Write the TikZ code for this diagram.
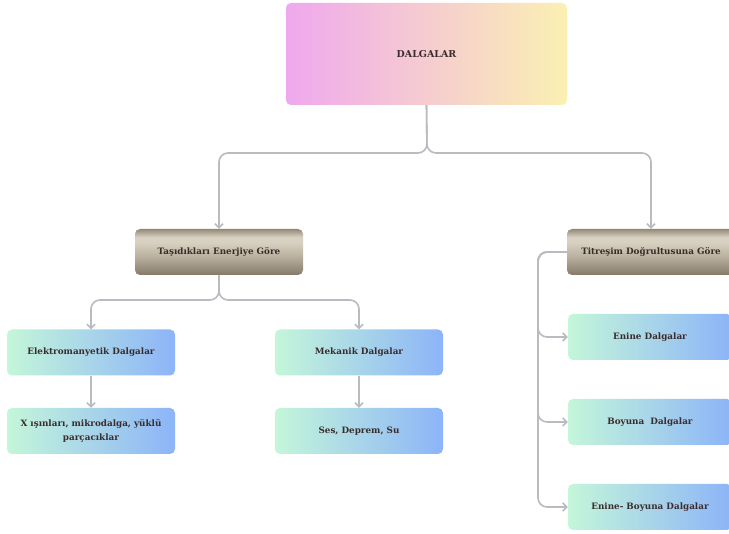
\documentclass[tikz,border=0pt]{standalone}
\usepackage{fontspec}
\setmainfont{DejaVu Serif}
\usetikzlibrary{arrows.meta}
\definecolor{txt}{HTML}{3A2C2C}
\definecolor{conncol}{HTML}{B8BCC0}
\definecolor{pinkL}{HTML}{EFA8EE}
\definecolor{pinkM}{HTML}{F6D4D4}
\definecolor{yelR}{HTML}{FBF0B2}
\definecolor{mintL}{HTML}{C4F6DA}
\definecolor{blueR}{HTML}{8CB4F8}
\definecolor{brTop}{HTML}{948977}
\definecolor{brLight}{HTML}{D8D1C2}
\definecolor{brMid}{HTML}{BAB09E}
\definecolor{brBot}{HTML}{857A6A}
\pgfdeclareverticalshading{brownsh}{100bp}{color(0bp)=(brBot); color(25bp)=(brBot); color(45bp)=(brMid); color(61bp)=(brLight); color(66bp)=(brLight); color(75bp)=(brTop); color(100bp)=(brTop)}
\tikzset{
  base/.style={rounded corners=5pt, inner sep=2pt, text=txt, font=\fontsize{8.8}{14}\selectfont\bfseries, align=center},
  topbox/.style={base, minimum width=281pt, minimum height=102pt, left color=pinkL, middle color=pinkM, right color=yelR, font=\fontsize{9.5}{11}\selectfont\bfseries},
  brownbox/.style={base, minimum width=168pt, minimum height=46pt, shading=brownsh},
  leafbox/.style={base, minimum width=168pt, minimum height=46pt, left color=mintL, right color=blueR},
  conn/.style={draw=conncol, line width=1.6pt, rounded corners=9pt},
  arr/.style={conn, -{Straight Barb[length=4pt,width=8pt,line width=1.6pt]}}
}
\begin{document}
\begin{tikzpicture}[x=1pt,y=-1pt]
\useasboundingbox (0,0) rectangle (729,534);
\clip (0,0) rectangle (729,534);
\fill[white] (0,0) rectangle (729,534);

\node[topbox] (top) at (426.5,54) {DALGALAR};
\node[brownbox] (b1) at (219,252) {Taşıdıkları Enerjiye Göre};
\node[brownbox] (b2) at (651,252) {Titreşim Doğrultusuna Göre};
\node[leafbox] (em) at (91,352.5) {Elektromanyetik Dalgalar};
\node[leafbox] (xr) at (91,431) {X ışınları, mikrodalga, yüklü\\parçacıklar};
\node[leafbox] (mk) at (359,352.5) {Mekanik Dalgalar};
\node[leafbox] (ses) at (359,431) {Ses, Deprem, Su};
\node[leafbox, minimum width=164pt] (en) at (650,337) {Enine Dalgalar};
\node[leafbox, minimum width=164pt] (by) at (650,422) {Boyuna\ \ Dalgalar};
\node[leafbox, minimum width=164pt] (eb) at (650,507) {Enine- Boyuna Dalgalar};

\coordinate (j0) at (427,153);
\coordinate (j1) at (219,300);
\coordinate (rx) at (538,252);

\draw[arr] (top.south) -- (j0) -| (b1.north);
\draw[arr] (top.south) -- (j0) -| (b2.north);
\draw[arr] (b1.south) -- (j1) -| (em.north);
\draw[arr] (b1.south) -- (j1) -| (mk.north);
\draw[arr] (em.south) -- (xr.north);
\draw[arr] (mk.south) -- (ses.north);
\draw[arr] (b2.west) -- (rx) |- (en.west);
\draw[arr] (b2.west) -- (rx) |- (by.west);
\draw[arr] (b2.west) -- (rx) |- (eb.west);
\end{tikzpicture}
\end{document}
